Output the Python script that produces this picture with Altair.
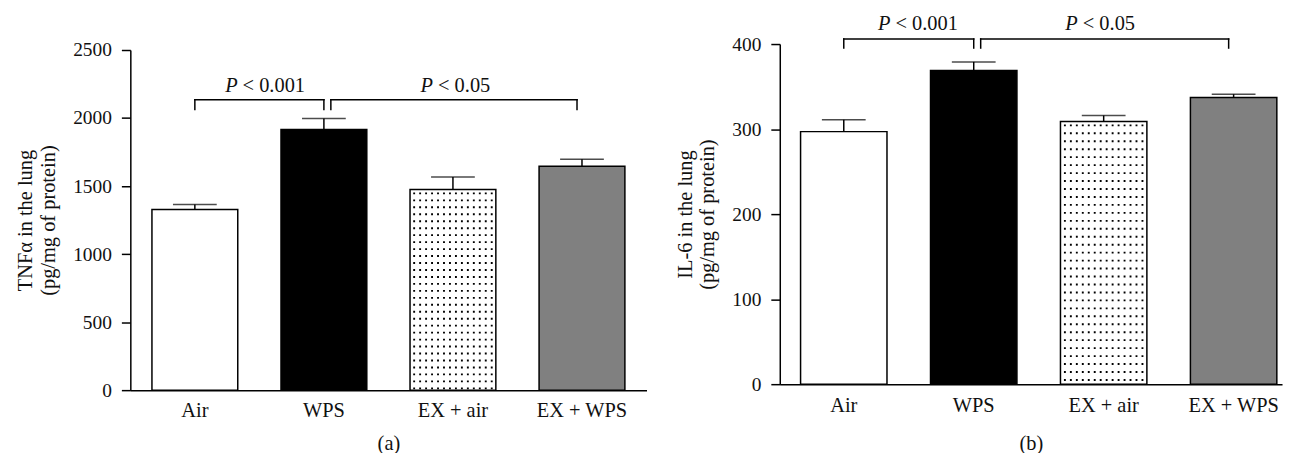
import altair as alt
import pandas as pd

# ---- data ----
categories = ["Air", "WPS", "EX + air", "EX + WPS"]
tnf_mean = [1327, 1916, 1475, 1646]
tnf_sem = [38, 80, 91, 51]
il6_mean = [297, 369, 309, 337]
il6_sem = [14, 10, 7, 4]
bar_fills = ["#ffffff", "#000000", "#ffffff", "#808080"]
tnf_ticks = [0, 500, 1000, 1500, 2000, 2500]
il6_ticks = [0, 100, 200, 300, 400]
comparisons = [("Air", "WPS"), ("WPS", "EX + WPS")]
p_texts = ["< 0.001", "< 0.05"]
tnf_title = ["TNF\u03b1 in the lung", "(pg/mg of protein)"]
il6_title = ["IL-6 in the lung", "(pg/mg of protein)"]

FONT = "Liberation Serif"
INK = "#111111"
DOT_COLUMNS = [-39 + 6 * k for k in range(14)]


def panel(mean, sem, ticks, ymax, ytitle, xtitle, width, height, yrange, band,
          bracket_top, bracket_leg, text_y, text_dx, text_anchor, title_pad, dot_gap):
    df = pd.DataFrame({
        "cat": categories,
        "mean": mean,
        "upper": [m + s for m, s in zip(mean, sem)],
    })
    xscale = alt.Scale(domain=categories, **band)
    yscale = alt.Scale(domain=[0, ymax], range=yrange, nice=False, zero=True)
    fill = alt.Color("cat:N", scale=alt.Scale(domain=categories, range=bar_fills), legend=None)

    xaxis = alt.Axis(ticks=False, tickSize=0, labelAngle=0, labelPadding=11,
                     labelFont=FONT, labelFontSize=20.5, labelColor=INK,
                     domainColor="black", domainWidth=1.5,
                     titleFont=FONT, titleFontSize=20.5, titleFontWeight="normal",
                     titleColor=INK, titlePadding=title_pad, grid=False)
    yaxis = alt.Axis(values=ticks, tickSize=9, tickWidth=1.5, tickColor="black",
                     domainColor="black", domainWidth=1.5, labelPadding=10,
                     labelFont=FONT, labelFontSize=19.5, labelColor=INK,
                     titleFont=FONT, titleFontSize=20.5, titleFontWeight="normal",
                     titleColor=INK, titlePadding=14, titleLineHeight=23,
                     grid=False, format="d")

    def xp(field="cat", **kw):
        return alt.X(f"{field}:N", scale=xscale, sort=None, axis=xaxis, title=xtitle, **kw)

    def yp(field):
        return alt.Y(f"{field}:Q", scale=yscale, axis=yaxis, title=ytitle)

    base = alt.Chart(df)
    bars = base.mark_bar(stroke="black", strokeWidth=1.5).encode(
        x=xp(), y=yp("mean"), fill=fill)

    layers = [bars]
    dotted = base.transform_filter(alt.datum.cat == "EX + air").transform_calculate(zero="0")
    for off in DOT_COLUMNS:
        layers.append(dotted.mark_rule(color="black", strokeWidth=1.9, xOffset=off,
                                       strokeDash=[1.9, dot_gap - 1.9], strokeDashOffset=-3,
                                       strokeCap="butt").encode(
            x=xp(), y=yp("mean"), y2=alt.Y2("zero:Q")))

    layers.append(base.mark_rule(color="black", strokeWidth=1.5).encode(
        x=xp(), y=yp("mean"), y2=alt.Y2("upper:Q")))
    layers.append(base.mark_tick(color="black", size=44, thickness=1.5, orient="horizontal").encode(
        x=xp(), y=yp("upper")))

    # significance brackets
    offsets = [(0, 0), (7, -5)]
    for (a, b), (oa, ob), ptxt, dx, anchor in zip(comparisons, offsets, p_texts, text_dx, text_anchor):
        bd = pd.DataFrame({"a": [a], "b": [b], "top": [bracket_top], "leg": [bracket_leg],
                           "ty": [text_y], "anchor": [anchor], "p": ["P"], "rest": [ptxt]})
        bc = alt.Chart(bd)
        layers.append(bc.mark_rule(color="black", strokeWidth=1.5, strokeCap="square",
                                   xOffset=oa, x2Offset=ob).encode(
            x=xp("a", bandPosition=0.5),
            x2=alt.X2("b", bandPosition=0.5),
            y=yp("top")))
        layers.append(bc.mark_rule(color="black", strokeWidth=1.5, strokeCap="square",
                                   xOffset=oa).encode(x=xp("a"), y=yp("top"), y2=alt.Y2("leg:Q")))
        layers.append(bc.mark_rule(color="black", strokeWidth=1.5, strokeCap="square",
                                   xOffset=ob).encode(x=xp("b"), y=yp("top"), y2=alt.Y2("leg:Q")))
        layers.append(bc.mark_text(font=FONT, fontSize=20.5, fontStyle="italic", color=INK,
                                   align="right", baseline="alphabetic", dx=dx).encode(
            x=xp("anchor"), y=yp("ty"), text="p:N"))
        layers.append(bc.mark_text(font=FONT, fontSize=20.5, color=INK,
                                   align="left", baseline="alphabetic", dx=dx + 5).encode(
            x=xp("anchor"), y=yp("ty"), text="rest:N"))

    return alt.layer(*layers).properties(width=width, height=height)


left = panel(tnf_mean, tnf_sem, tnf_ticks, 2500, tnf_title, "(a)", 519, 348, [348, 6],
             dict(paddingInner=0.335, paddingOuter=0.1675, align=0.5),
             2135, 2062, 2190, [43, -20], ["Air", "EX + air"], 12, 7)
right = panel(il6_mean, il6_sem, il6_ticks, 400, il6_title, "(b)", 505, 342, [342, 0],
              dict(paddingInner=0.335, paddingOuter=0.1, align=0.8),
              405.9, 395.3, 416.4, [47, -26], ["Air", "EX + air"], 18, 8)

chart = alt.hconcat(left, right, spacing=134, bounds="flush").configure_view(
    stroke=None).properties(background="white",
                            padding={"left": 8, "top": 4, "right": 5, "bottom": 5})

chart.save("out.html", embed_options={"renderer": "svg", "actions": False})
